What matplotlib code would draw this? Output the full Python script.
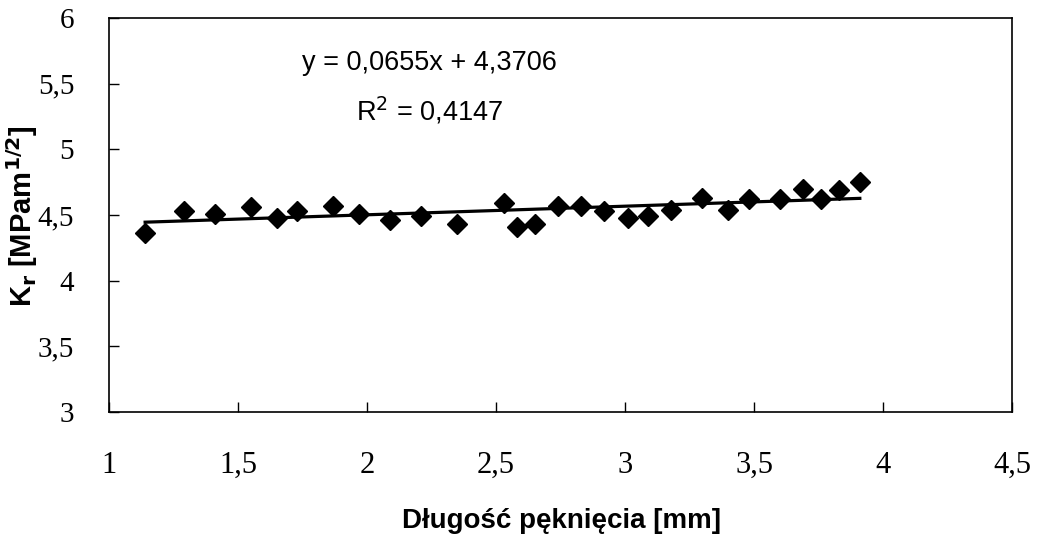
import numpy as np
import matplotlib
matplotlib.use("Agg")
import matplotlib.pyplot as plt

# crack length [mm] and Kr [MPa m^1/2]
crack_len = [1.14, 1.29, 1.41, 1.55, 1.65, 1.73, 1.87, 1.97, 2.09, 2.21,
             2.35, 2.53, 2.58, 2.65, 2.74, 2.83, 2.92, 3.01, 3.09, 3.18,
             3.30, 3.40, 3.48, 3.60, 3.69, 3.76, 3.83, 3.91]
kr = [4.36, 4.53, 4.51, 4.56, 4.48, 4.53, 4.57, 4.51, 4.46, 4.49,
      4.43, 4.59, 4.41, 4.43, 4.57, 4.57, 4.53, 4.48, 4.49, 4.54,
      4.63, 4.54, 4.62, 4.62, 4.70, 4.62, 4.69, 4.75]

# Excel linear trendline shown on the chart
SLOPE = 0.0655
INTERCEPT = 4.3706
R2 = 0.4147

x_ticks = [1, 1.5, 2, 2.5, 3, 3.5, 4, 4.5]
x_labels = ["1", "1,5", "2", "2,5", "3", "3,5", "4", "4,5"]
y_ticks = [3, 3.5, 4, 4.5, 5, 5.5, 6]
y_labels = ["3", "3,5", "4", "4,5", "5", "5,5", "6"]

fig = plt.figure(figsize=(10.44, 5.4), dpi=100)
ax = fig.add_axes([0.1044, 0.237, 0.865, 0.7297])

xl = np.array([min(crack_len), max(crack_len)])
ax.plot(xl, SLOPE * xl + INTERCEPT, color="black", lw=2.3, zorder=2)
ax.plot(crack_len, kr, "D", color="black", ms=10.5, zorder=3)

ax.set_xlim(1, 4.5)
ax.set_ylim(3, 6)
ax.set_xticks(x_ticks)
ax.set_xticklabels(x_labels)
ax.set_yticks(y_ticks)
ax.set_yticklabels(y_labels)
ax.tick_params(direction="in", length=7, width=1)
ax.tick_params(axis="y", pad=25, labelsize=21)
ax.tick_params(axis="x", pad=28, labelsize=22)
for t in ax.get_xticklabels() + ax.get_yticklabels():
    t.set_family("Liberation Serif")
for s in ax.spines.values():
    s.set_linewidth(1.2)

ax.text(0.355, 0.885, f"y = {SLOPE:.4f}x + {INTERCEPT:.4f}".replace(".", ","),
        transform=ax.transAxes, ha="center", va="center",
        family="Liberation Sans", fontsize=19.5)
ax.text(0.355, 0.765, f"R$^2$ = {R2:.4f}".replace(".", ","),
        transform=ax.transAxes, ha="center", va="center",
        family="Liberation Sans", fontsize=19.5)

fig.text(0.538, 0.035, "Długość pęknięcia [mm]", ha="center", va="center",
         family="Liberation Sans", fontweight="bold", fontsize=20)
fig.text(0.021, 0.6, r"K$_\mathbf{r}$ [MPam$^{\mathbf{1/2}}$]", rotation=90,
         ha="center", va="center", family="Liberation Sans",
         fontweight="bold", fontsize=21)

fig.savefig("out.png", dpi=100)
